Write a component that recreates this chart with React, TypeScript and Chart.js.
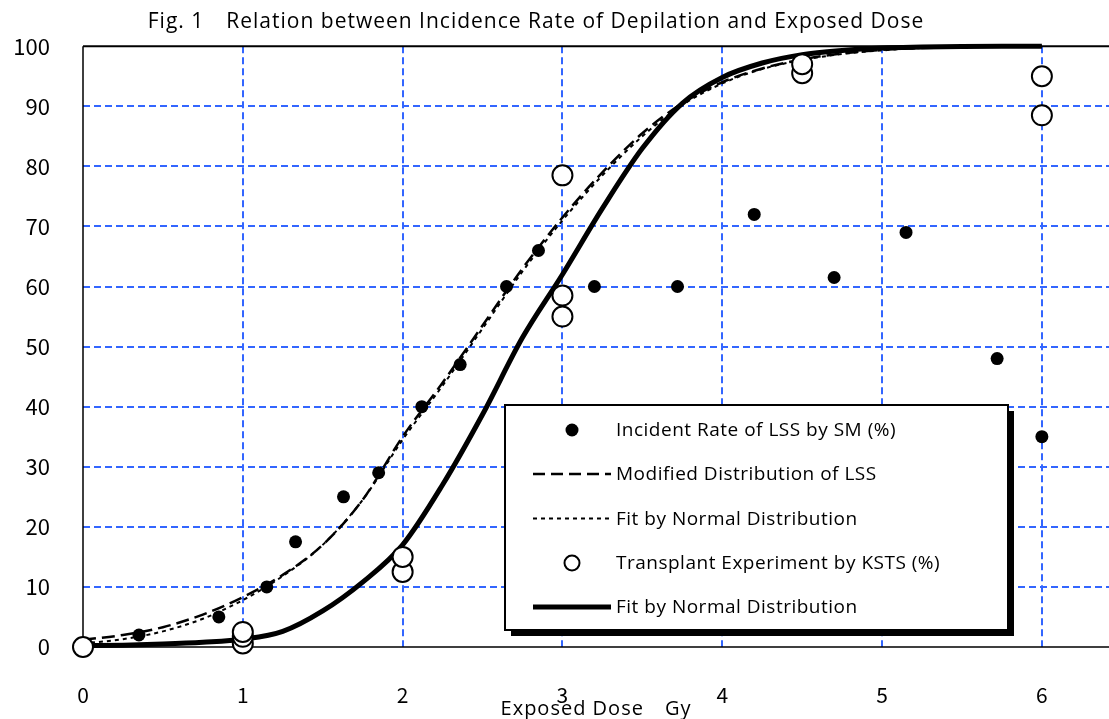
import React, { useEffect, useRef } from "react";
import { Chart, registerables } from "chart.js";

Chart.register(...registerables);

const TITLE = "Fig. 1\u3000Relation between Incidence Rate of Depilation and Exposed Dose";
const X_TITLE = "Exposed Dose\u3000Gy";
const LEGEND_LABELS = [
  "Incident Rate of LSS by SM (%)",
  "Modified Distribution of LSS",
  "Fit by Normal Distribution",
  "Transplant Experiment by KSTS (%)",
  "Fit by Normal Distribution",
];

const X_MIN = 0;
const X_MAX = 6.42;
const Y_MIN = 0;
const Y_MAX = 100;

// Incident Rate of LSS by SM (%)
const smDose = [0.35, 0.85, 1.15, 1.33, 1.63, 1.85, 2.12, 2.36, 2.65, 2.85, 3.2, 3.72, 4.2, 4.7, 5.15, 5.72, 6.0];
const smRate = [2, 5, 10, 17.5, 25, 29, 40, 47, 60, 66, 60, 60, 72, 61.5, 69, 48, 35];

// Transplant Experiment by KSTS (%)
const kstsDose = [0, 1, 1, 1, 2, 2, 3, 3, 3, 4.5, 4.5, 6, 6];
const kstsRate = [0, 0.6, 1.7, 2.5, 12.5, 15, 55, 58.5, 78.5, 95.5, 97, 88.5, 95];

// curves
const curveDose = [0, 0.25, 0.5, 0.75, 1, 1.25, 1.5, 1.75, 2, 2.25, 2.5, 2.75, 3, 3.25, 3.5, 3.75, 4, 4.25, 4.5, 4.75, 5, 5.25, 5.5, 5.75, 6];
const modifiedLss = [1.2, 2.0, 3.3, 5.4, 8.3, 12.0, 17.0, 24.5, 35.0, 44.0, 53.5, 63.0, 71.5, 79.0, 85.5, 90.5, 94.0, 96.3, 97.8, 98.8, 99.4, 99.7, 99.85, 99.95, 100];
const fitLss = [0.6, 1.3, 2.6, 4.7, 7.8, 11.8, 17.0, 24.5, 34.5, 43.5, 53.0, 62.5, 71.0, 78.5, 85.0, 90.2, 93.8, 96.2, 97.7, 98.7, 99.3, 99.7, 99.85, 99.95, 100];
const fitKsts = [0.2, 0.3, 0.5, 0.8, 1.3, 2.6, 6.0, 10.8, 17.0, 27.0, 38.7, 51.5, 62.0, 73.0, 83.0, 90.5, 94.8, 97.2, 98.6, 99.3, 99.7, 99.85, 99.95, 100, 100];

const FONT = '"Open Sans", "Noto Sans CJK JP", sans-serif';
const NUM_FONT = '"Noto Sans CJK JP", "Noto Sans", sans-serif';
const GRID_BLUE = "#3366ff";

const toPts = (xs: number[], ys: number[]) => xs.map((x, i) => ({ x, y: ys[i] }));

const setSpacing = (ctx: any, v: string) => {
  if ("letterSpacing" in ctx) ctx.letterSpacing = v;
};

const decorPlugin = {
  id: "decor",
  beforeDatasetsDraw(chart: any) {
    const { ctx, chartArea } = chart;
    const { left, right, top, bottom } = chartArea;
    ctx.save();
    ctx.strokeStyle = "#000";
    ctx.setLineDash([]);
    ctx.lineWidth = 2;
    ctx.beginPath();
    ctx.moveTo(left, top);
    ctx.lineTo(right, top);
    ctx.stroke();
    ctx.lineWidth = 1.5;
    ctx.beginPath();
    ctx.moveTo(left, top);
    ctx.lineTo(left, bottom);
    ctx.moveTo(left, bottom);
    ctx.lineTo(right, bottom);
    ctx.stroke();
    ctx.restore();
  },
  afterDraw(chart: any) {
    const { ctx, chartArea } = chart;
    ctx.save();
    // title
    ctx.fillStyle = "#000";
    ctx.font = `21px ${FONT}`;
    setSpacing(ctx, "1px");
    ctx.textAlign = "center";
    ctx.textBaseline = "middle";
    ctx.fillText(TITLE, 536, 22);
    // x axis title
    ctx.font = `20px ${FONT}`;
    setSpacing(ctx, "1px");
    const cx = (chartArea.left + chartArea.right) / 2;
    ctx.fillText(X_TITLE, cx, 709);

    // legend box
    const bx = 505, by = 405, bw = 503, bh = 225;
    ctx.fillStyle = "#000";
    ctx.fillRect(bx + 6, by + 6, bw, bh);
    ctx.fillStyle = "#fff";
    ctx.fillRect(bx, by, bw, bh);
    ctx.strokeStyle = "#000";
    ctx.lineWidth = 2;
    ctx.strokeRect(bx, by, bw, bh);

    const rowY = [430, 474, 518.5, 563, 607];
    const lx0 = 533, lx1 = 611, mx = 572, tx = 616;
    ctx.font = `19px ${FONT}`;
    setSpacing(ctx, "0.5px");
    ctx.textAlign = "left";
    ctx.textBaseline = "middle";
    for (let i = 0; i < 5; i++) {
      const y = rowY[i];
      ctx.setLineDash([]);
      if (i === 0) {
        ctx.fillStyle = "#000";
        ctx.beginPath();
        ctx.arc(mx, y, 6.5, 0, Math.PI * 2);
        ctx.fill();
      } else if (i === 3) {
        ctx.fillStyle = "#fff";
        ctx.strokeStyle = "#000";
        ctx.lineWidth = 2;
        ctx.beginPath();
        ctx.arc(mx, y, 7.5, 0, Math.PI * 2);
        ctx.fill();
        ctx.stroke();
      } else {
        ctx.strokeStyle = "#000";
        if (i === 1) {
          ctx.lineWidth = 2.5;
          ctx.setLineDash([12, 6]);
        } else if (i === 2) {
          ctx.lineWidth = 2;
          ctx.setLineDash([4, 4]);
        } else {
          ctx.lineWidth = 5;
        }
        ctx.beginPath();
        ctx.moveTo(lx0, y);
        ctx.lineTo(lx1, y);
        ctx.stroke();
        ctx.setLineDash([]);
      }
      ctx.fillStyle = "#000";
      ctx.fillText(LEGEND_LABELS[i], tx, y + 1);
    }
    ctx.restore();
  },
};

export default function App() {
  const ref = useRef<HTMLCanvasElement | null>(null);

  useEffect(() => {
    document.body.style.margin = "0";
    const canvas = ref.current;
    if (!canvas) return;
    const chart = new Chart(canvas, {
      type: "scatter",
      data: {
        datasets: [
          {
            label: LEGEND_LABELS[3],
            data: toPts(kstsDose, kstsRate),
            pointRadius: 10,
            pointBackgroundColor: "#fff",
            pointBorderColor: "#000",
            pointBorderWidth: 2,
            showLine: false,
            order: 0,
            clip: false,
          },
          {
            label: LEGEND_LABELS[0],
            data: toPts(smDose, smRate),
            pointRadius: 6.5,
            pointBackgroundColor: "#000",
            pointBorderColor: "#000",
            pointBorderWidth: 0,
            showLine: false,
            order: 1,
            clip: false,
          },
          {
            label: LEGEND_LABELS[4],
            data: toPts(curveDose, fitKsts),
            showLine: true,
            borderColor: "#000",
            borderWidth: 5,
            pointRadius: 0,
            cubicInterpolationMode: "monotone",
            order: 2,
            clip: false,
          },
          {
            label: LEGEND_LABELS[1],
            data: toPts(curveDose, modifiedLss),
            showLine: true,
            borderColor: "#000",
            borderWidth: 2.5,
            borderDash: [13, 6],
            pointRadius: 0,
            cubicInterpolationMode: "monotone",
            order: 3,
            clip: false,
          },
          {
            label: LEGEND_LABELS[2],
            data: toPts(curveDose, fitLss),
            showLine: true,
            borderColor: "#000",
            borderWidth: 2,
            borderDash: [4, 4],
            pointRadius: 0,
            cubicInterpolationMode: "monotone",
            order: 4,
            clip: false,
          },
        ],
      },
      options: {
        animation: false,
        responsive: false,
        maintainAspectRatio: false,
        layout: { autoPadding: false, padding: { top: 45, left: 0, right: 0, bottom: 0 } },
        plugins: {
          legend: { display: false },
          title: { display: false },
          tooltip: { enabled: false },
        },
        scales: {
          x: {
            type: "linear",
            min: X_MIN,
            max: X_MAX,
            afterFit(scale: any) {
              scale.height = 72;
            },
            border: { display: false, dash: [7, 4] },
            grid: {
              drawTicks: false,
              lineWidth: 2,
              color: (c: any) => (c.tick && c.tick.value === 0 ? "rgba(0,0,0,0)" : GRID_BLUE),
            },
            ticks: {
              stepSize: 1,
              includeBounds: false,
              padding: 35,
              color: "#000",
              font: { family: NUM_FONT, size: 21 },
              callback: (v: any) => (Number.isInteger(v) ? String(v) : ""),
            },
          },
          y: {
            type: "linear",
            min: Y_MIN,
            max: Y_MAX,
            afterFit(scale: any) {
              scale.width = 83;
            },
            border: { display: false, dash: [7, 4] },
            grid: {
              drawTicks: false,
              lineWidth: 2,
              color: (c: any) =>
                c.tick && (c.tick.value === 0 || c.tick.value === 100) ? "rgba(0,0,0,0)" : GRID_BLUE,
            },
            ticks: {
              stepSize: 10,
              padding: 33,
              color: "#000",
              font: { family: NUM_FONT, size: 22 },
            },
          },
        },
      },
      plugins: [decorPlugin],
    } as any);
    return () => chart.destroy();
  }, []);

  return (
    <div style={{ width: 1109, height: 719 }}>
      <canvas ref={ref} width={1109} height={719} style={{ display: "block", width: 1109, height: 719 }} />
    </div>
  );
}
